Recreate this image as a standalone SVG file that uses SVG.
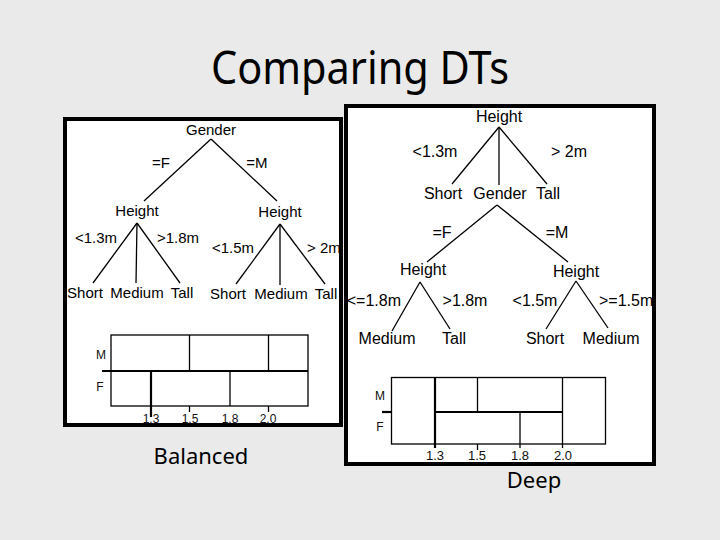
<svg xmlns="http://www.w3.org/2000/svg" width="720" height="540" viewBox="0 0 720 540">
<style>
.bg{fill:#eaeaea}
.panel{fill:#fff;stroke:#000;stroke-width:4}
.t{font-family:"Liberation Sans",Arial,sans-serif;font-size:15px;fill:#000;text-anchor:middle}
.t2{font-family:"Liberation Sans",Arial,sans-serif;font-size:16px;fill:#000;text-anchor:middle}
.c{font-family:"Liberation Sans",Arial,sans-serif;font-size:12px;fill:#111;text-anchor:middle}
.cap{font-family:"Noto Sans","DejaVu Sans",sans-serif;font-size:22px;fill:#000;text-anchor:middle}
.title{font-family:"Noto Sans","DejaVu Sans",sans-serif;font-size:46px;fill:#000}
.e{stroke:#000;stroke-width:1.3;fill:none}
.g{stroke:#000;stroke-width:1.3;fill:none}
.gb{stroke:#000;stroke-width:2.2;fill:none}
</style>
<rect class="bg" x="0" y="0" width="720" height="540"/>
<text id="title" class="title" x="211" y="84" textLength="298" lengthAdjust="spacingAndGlyphs">Comparing DTs</text>

<!-- panels -->
<rect class="panel" x="65" y="119" width="276" height="306"/>
<rect class="panel" x="346" y="106" width="308" height="358"/>

<!-- connectors -->
<g id="connectors">
  <!-- balanced tree -->
  <line class="e" x1="211" y1="139" x2="144" y2="201"/>
  <line class="e" x1="211" y1="139" x2="277" y2="201"/>
  <line class="e" x1="137" y1="223" x2="93" y2="283"/>
  <line class="e" x1="137" y1="223" x2="136" y2="283"/>
  <line class="e" x1="137" y1="223" x2="180" y2="283"/>
  <line class="e" x1="280" y1="224" x2="236" y2="284"/>
  <line class="e" x1="280" y1="224" x2="280" y2="285"/>
  <line class="e" x1="280" y1="224" x2="325" y2="284"/>
  <!-- deep tree -->
  <line class="e" x1="499" y1="127" x2="452" y2="184"/>
  <line class="e" x1="499" y1="127" x2="499" y2="185"/>
  <line class="e" x1="499" y1="127" x2="547" y2="184"/>
  <line class="e" x1="497" y1="205" x2="427" y2="262"/>
  <line class="e" x1="497" y1="205" x2="568" y2="262"/>
  <line class="e" x1="420" y1="282" x2="392" y2="331"/>
  <line class="e" x1="420" y1="282" x2="450" y2="329"/>
  <line class="e" x1="576" y1="281" x2="546" y2="329"/>
  <line class="e" x1="576" y1="281" x2="608" y2="328"/>
</g>

<!-- balanced tree nodes -->
<g id="b-gender"><text class="t" x="211" y="135">Gender</text></g>
<g id="b-edge-f"><text class="t" x="161" y="168">=F</text></g>
<g id="b-edge-m"><text class="t" x="257" y="168">=M</text></g>
<g id="b-height-f"><text class="t" x="137" y="216">Height</text></g>
<g id="b-height-m"><text class="t" x="280" y="217">Height</text></g>
<g id="b-lbl1"><text class="t" x="96" y="243">&lt;1.3m</text></g>
<g id="b-lbl2"><text class="t" x="178" y="243">&gt;1.8m</text></g>
<g id="b-lbl3"><text class="t" x="233" y="253">&lt;1.5m</text></g>
<g id="b-lbl4"><text class="t" x="307" y="253" style="text-anchor:start">&gt; 2m</text></g>
<g id="b-short-f"><text class="t" x="85" y="298">Short</text></g>
<g id="b-medium-f"><text class="t" x="137" y="298">Medium</text></g>
<g id="b-tall-f"><text class="t" x="182" y="298">Tall</text></g>
<g id="b-short-m"><text class="t" x="228" y="299">Short</text></g>
<g id="b-medium-m"><text class="t" x="281" y="299">Medium</text></g>
<g id="b-tall-m"><text class="t" x="326" y="299">Tall</text></g>

<!-- balanced chart -->
<g id="b-chart">
  <rect class="g" x="111" y="335" width="197" height="71"/>
  <line class="gb" x1="102" y1="371" x2="308" y2="371"/>
  <line class="g" x1="189.5" y1="335" x2="189.5" y2="371"/>
  <line class="g" x1="268.5" y1="335" x2="268.5" y2="371"/>
  <line class="gb" x1="151" y1="371" x2="151" y2="417"/>
  <line class="g" x1="230" y1="371" x2="230" y2="406"/>
  <line class="g" x1="189.5" y1="406" x2="189.5" y2="412"/>
  <line class="g" x1="268.5" y1="406" x2="268.5" y2="412"/>
  <text class="c" x="101" y="359">M</text>
  <text class="c" x="100" y="391">F</text>
  <text class="c" x="151" y="423">1.3</text>
  <text class="c" x="190" y="423">1.5</text>
  <text class="c" x="230" y="423">1.8</text>
  <text class="c" x="268" y="423">2.0</text>
</g>
<text id="cap-balanced" class="cap" x="201" y="464">Balanced</text>

<!-- deep tree nodes -->
<g id="d-height"><text class="t2" x="499" y="122">Height</text></g>
<g id="d-lbl1"><text class="t2" x="435" y="157">&lt;1.3m</text></g>
<g id="d-lbl2"><text class="t2" x="569" y="157">&gt; 2m</text></g>
<g id="d-short"><text class="t2" x="443" y="199">Short</text></g>
<g id="d-gender"><text class="t2" x="500" y="199">Gender</text></g>
<g id="d-tall"><text class="t2" x="548" y="199">Tall</text></g>
<g id="d-edge-f"><text class="t2" x="442" y="238">=F</text></g>
<g id="d-edge-m"><text class="t2" x="557" y="238">=M</text></g>
<g id="d-height-f"><text class="t2" x="423" y="275">Height</text></g>
<g id="d-height-m"><text class="t2" x="576" y="277">Height</text></g>
<g id="d-lbl3"><text class="t2" x="401" y="306" style="text-anchor:end">&lt;=1.8m</text></g>
<g id="d-lbl4"><text class="t2" x="465" y="306">&gt;1.8m</text></g>
<g id="d-lbl5"><text class="t2" x="535" y="306">&lt;1.5m</text></g>
<g id="d-lbl6"><text class="t2" x="599" y="306" style="text-anchor:start">&gt;=1.5m</text></g>
<g id="d-medium-f"><text class="t2" x="387" y="344">Medium</text></g>
<g id="d-tall-f"><text class="t2" x="454" y="344">Tall</text></g>
<g id="d-short-m"><text class="t2" x="545" y="344">Short</text></g>
<g id="d-medium-m"><text class="t2" x="611" y="344">Medium</text></g>

<!-- deep chart -->
<g id="d-chart">
  <rect class="g" x="391.5" y="377.5" width="214" height="66.5"/>
  <line class="gb" x1="382" y1="412" x2="391.5" y2="412"/>
  <line class="gb" x1="435" y1="412" x2="562" y2="412"/>
  <line class="gb" x1="435" y1="377.5" x2="435" y2="448"/>
  <line class="g" x1="477.5" y1="377.5" x2="477.5" y2="412"/>
  <line class="g" x1="477.5" y1="444" x2="477.5" y2="450"/>
  <line class="g" x1="520" y1="412" x2="520" y2="448"/>
  <line class="g" x1="562.5" y1="377.5" x2="562.5" y2="448"/>
  <text class="c" x="380" y="400">M</text>
  <text class="c" x="380" y="431">F</text>
  <text class="c" x="435" y="460" style="font-size:13px">1.3</text>
  <text class="c" x="477" y="460" style="font-size:13px">1.5</text>
  <text class="c" x="520" y="460" style="font-size:13px">1.8</text>
  <text class="c" x="563" y="460" style="font-size:13px">2.0</text>
</g>
<text id="cap-deep" class="cap" x="534" y="488">Deep</text>
</svg>
